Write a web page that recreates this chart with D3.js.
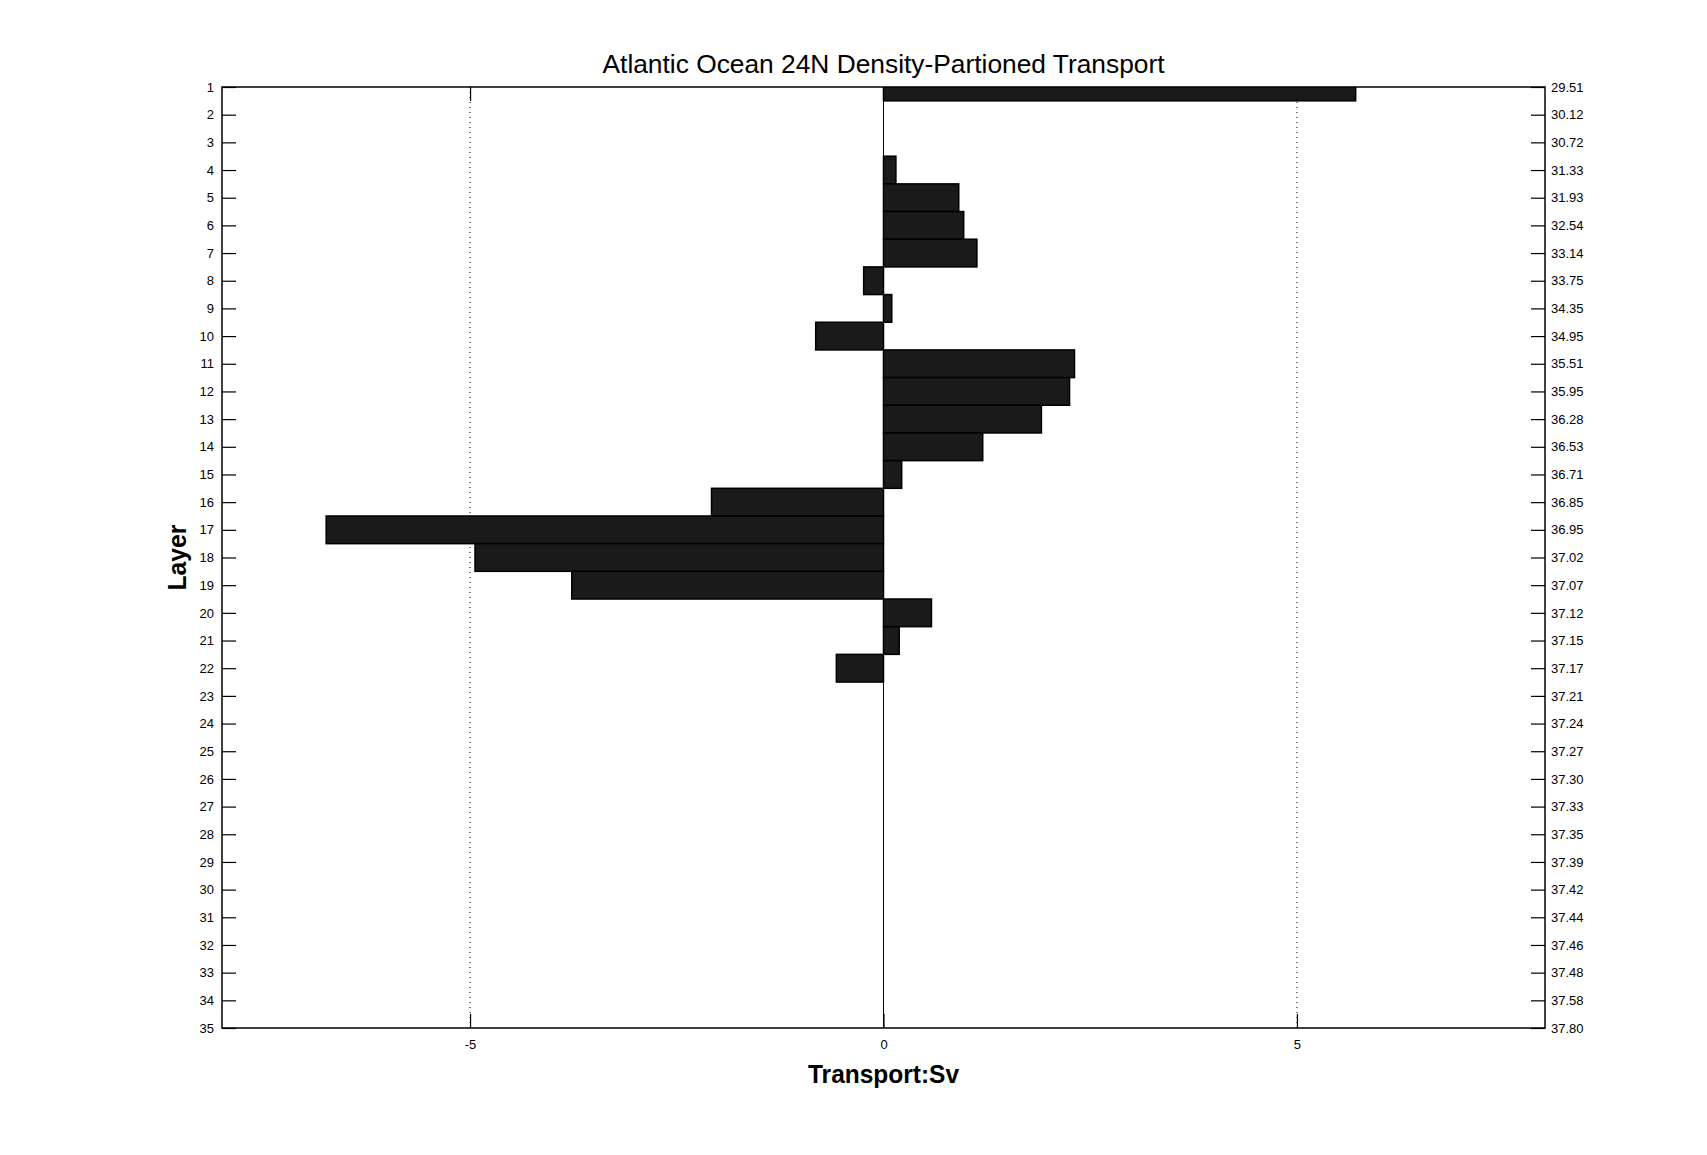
<!DOCTYPE html>
<html>
<head>
<meta charset="utf-8">
<script src="https://cdn.jsdelivr.net/npm/d3@7"></script>
<style>
  body { margin: 0; background: #fff; }
  svg { display: block; }
  text { font-family: "Liberation Sans", Arial, sans-serif; fill: #000; }
</style>
</head>
<body>
<div id="chart"></div>
<script>
// layer numbers (left axis) and the density values printed on the right axis
var layers = d3.range(1, 36);
var densityLabels = ["29.51", "30.12", "30.72", "31.33", "31.93", "32.54", "33.14", "33.75", "34.35", "34.95",
  "35.51", "35.95", "36.28", "36.53", "36.71", "36.85", "36.95", "37.02", "37.07", "37.12",
  "37.15", "37.17", "37.21", "37.24", "37.27", "37.30", "37.33", "37.35", "37.39", "37.42",
  "37.44", "37.46", "37.48", "37.58", "37.80"];

// transport per layer (Sv)
var transport = [5.71, 0, 0, 0.15, 0.91, 0.97, 1.13, -0.24, 0.10, -0.82,
  2.31, 2.25, 1.91, 1.20, 0.22, -2.08, -6.74, -4.94, -3.77, 0.58,
  0.19, -0.57, 0, 0, 0, 0, 0, 0, 0, 0,
  0, 0, 0, 0, 0];

var xTicks = [-5, 0, 5];
var gridTicks = [-5, 5];

var W = 1707, H = 1155;
var margin = {top: 87, right: 162, bottom: 127, left: 222};
var width = W - margin.left - margin.right,
    height = H - margin.top - margin.bottom;

var svg = d3.select("#chart")
  .append("svg")
  .attr("width", W)
  .attr("height", H);

var g = svg.append("g")
  .attr("transform", "translate(" + margin.left + "," + margin.top + ")");

var x = d3.scaleLinear().domain([-8, 8]).range([0, width]);
var y = d3.scaleLinear().domain([1, 35]).range([0, height]);

// clip so the first bar is cut at the top edge
g.append("clipPath").attr("id", "plotclip")
  .append("rect").attr("width", width).attr("height", height);

// dotted grid lines
g.selectAll("line.grid")
  .data(gridTicks)
  .enter()
  .append("line")
  .attr("class", "grid")
  .attr("x1", d => x(d)).attr("x2", d => x(d))
  .attr("y1", 0).attr("y2", height)
  .attr("stroke", "#000")
  .attr("stroke-width", 1)
  .attr("stroke-dasharray", "1,4");

// axes, ticks pointing inside (drawn before the bars so bars cover them)
var tickLen = 14;
var axLeft = g.append("g")
  .call(d3.axisLeft(y).tickValues(layers).tickFormat(d => String(d)).tickSizeInner(-tickLen).tickSizeOuter(0).tickPadding(8));
var axRight = g.append("g")
  .attr("transform", "translate(" + width + ",0)")
  .call(d3.axisRight(y).tickValues(layers).tickFormat((d, i) => densityLabels[i]).tickSizeInner(-tickLen).tickSizeOuter(0).tickPadding(6));
var axBottom = g.append("g")
  .attr("transform", "translate(0," + height + ")")
  .call(d3.axisBottom(x).tickValues(xTicks).tickFormat(d => String(d)).tickSizeInner(-tickLen).tickSizeOuter(0).tickPadding(12));
var axTop = g.append("g")
  .call(d3.axisTop(x).tickValues(xTicks).tickFormat("").tickSizeInner(-tickLen).tickSizeOuter(0));

[axLeft, axRight, axBottom, axTop].forEach(function(a) {
  a.selectAll("text")
    .style("font-family", "'Liberation Sans', Arial, sans-serif")
    .style("font-size", "13px")
    .attr("fill", "#000");
  a.selectAll("line").attr("stroke", "#000").attr("stroke-width", 1.2);
  a.select(".domain").attr("stroke", "none");
});
axBottom.selectAll("text").attr("dy", "0.71em");

// bars
g.append("g")
  .attr("clip-path", "url(#plotclip)")
  .selectAll("rect")
  .data(transport.map((v, i) => ({layer: layers[i], v: v})).filter(d => d.v !== 0))
  .enter()
  .append("rect")
  .attr("x", d => x(Math.min(0, d.v)))
  .attr("width", d => Math.abs(x(d.v) - x(0)))
  .attr("y", d => y(d.layer - 0.5))
  .attr("height", d => y(d.layer + 0.5) - y(d.layer - 0.5))
  .attr("fill", "#1a1a1a")
  .attr("stroke", "#000")
  .attr("stroke-width", 1.5);

// zero line
g.append("line")
  .attr("x1", x(0)).attr("x2", x(0))
  .attr("y1", 0).attr("y2", height)
  .attr("stroke", "#000")
  .attr("stroke-width", 1);

// plot frame
g.append("rect")
  .attr("width", width)
  .attr("height", height)
  .attr("fill", "none")
  .attr("stroke", "#000")
  .attr("stroke-width", 1.5);

// title and axis labels
svg.append("text")
  .attr("x", margin.left + x(0))
  .attr("y", 73)
  .attr("text-anchor", "middle")
  .attr("textLength", 562)
  .attr("lengthAdjust", "spacingAndGlyphs")
  .style("font-size", "25px")
  .text("Atlantic Ocean 24N Density-Partioned Transport");

svg.append("text")
  .attr("x", margin.left + x(0))
  .attr("y", 1083)
  .attr("text-anchor", "middle")
  .attr("textLength", 151)
  .attr("lengthAdjust", "spacingAndGlyphs")
  .style("font-size", "25px")
  .style("font-weight", "bold")
  .text("Transport:Sv");

svg.append("text")
  .attr("transform", "translate(186," + (margin.top + height / 2) + ") rotate(-90)")
  .attr("text-anchor", "middle")
  .attr("textLength", 66)
  .attr("lengthAdjust", "spacingAndGlyphs")
  .style("font-size", "25px")
  .style("font-weight", "bold")
  .text("Layer");
</script>
</body>
</html>
